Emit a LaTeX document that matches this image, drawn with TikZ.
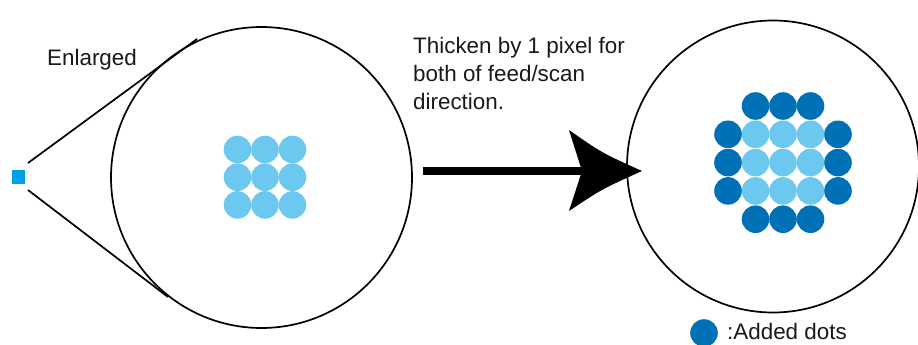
\documentclass[tikz,border=0pt]{standalone}
\usepackage{fontspec}
\setmainfont{Liberation Sans}
\definecolor{lightdot}{HTML}{6DC8EF}
\definecolor{darkdot}{HTML}{0071B6}
\definecolor{pixblue}{HTML}{00A0E9}
\tikzset{
  lens/.style={circle, draw=black, line width=1.7pt, inner sep=0pt},
  ldot/.style={circle, fill=lightdot, inner sep=0pt, minimum size=27.6pt},
  ddot/.style={circle, fill=darkdot, inner sep=0pt, minimum size=27.6pt},
  lbl/.style={inner sep=0pt, font=\fontsize{22.4}{28}\selectfont, text=black!90},
  zoomline/.style={line width=1.7pt, draw=black}
}
\begin{document}
\begin{tikzpicture}[x=1pt,y=-1pt]
\useasboundingbox (0,0) rectangle (918,345);
% small pixel
\node[fill=pixblue, minimum width=13pt, minimum height=14pt, inner sep=0pt] (pix) at (18.5,177) {};
% enlarged circle
\node[lens, minimum size=301pt] (L) at (261.5,177.5) {};
\coordinate (ua) at (28,163);
\coordinate (ub) at (197,39);
\coordinate (la) at (28,190);
\coordinate (lb) at (168,297);
\draw[zoomline] (ua) -- (ub);
\draw[zoomline] (la) -- (lb);
\node[lbl, anchor=base west] (enl) at (47,66) {Enlarged};
% left dots
\foreach \i in {0,1,2}{
  \foreach \j in {0,1,2}{
    \node[ldot] (a\i\j) at (237.5+27.5*\i,149.5+27.7*\j) {};
  }
}
% right circle
\node[lens, minimum size=292pt] (R) at (773,166.5) {};
% right dots
\foreach \i in {1,2,3}{
  \foreach \j in {1,2,3}{
    \node[ldot] (b\i\j) at (728+27.5*\i,106+28.3*\j) {};
  }
}
\foreach \i in {1,2,3}{
  \node[ddot] (t\i) at (728+27.5*\i,106) {};
  \node[ddot] (u\i) at (728+27.5*\i,106+28.3*4) {};
}
\foreach \j in {1,2,3}{
  \node[ddot] (l\j) at (728,106+28.3*\j) {};
  \node[ddot] (r\j) at (838,106+28.3*\j) {};
}
% arrow
\coordinate (as) at (423,171);
\coordinate (ae) at (586,171);
\coordinate (tip) at (642,171);
\draw[line width=8pt] (as) -- (ae);
\fill (582,171) -- (569,130) .. controls (602,153) .. (tip) .. controls (602,189) .. (569,211) -- cycle;
% text
\node[lbl, anchor=north west, align=left] (desc) at (413,37) {Thicken by 1 pixel for\\both of feed/scan\\direction.};
% legend
\node[ddot] (leg) at (704,333) {};
\node[lbl, anchor=base west] (legt) at (727,339.5) {:Added dots};
\end{tikzpicture}
\end{document}
